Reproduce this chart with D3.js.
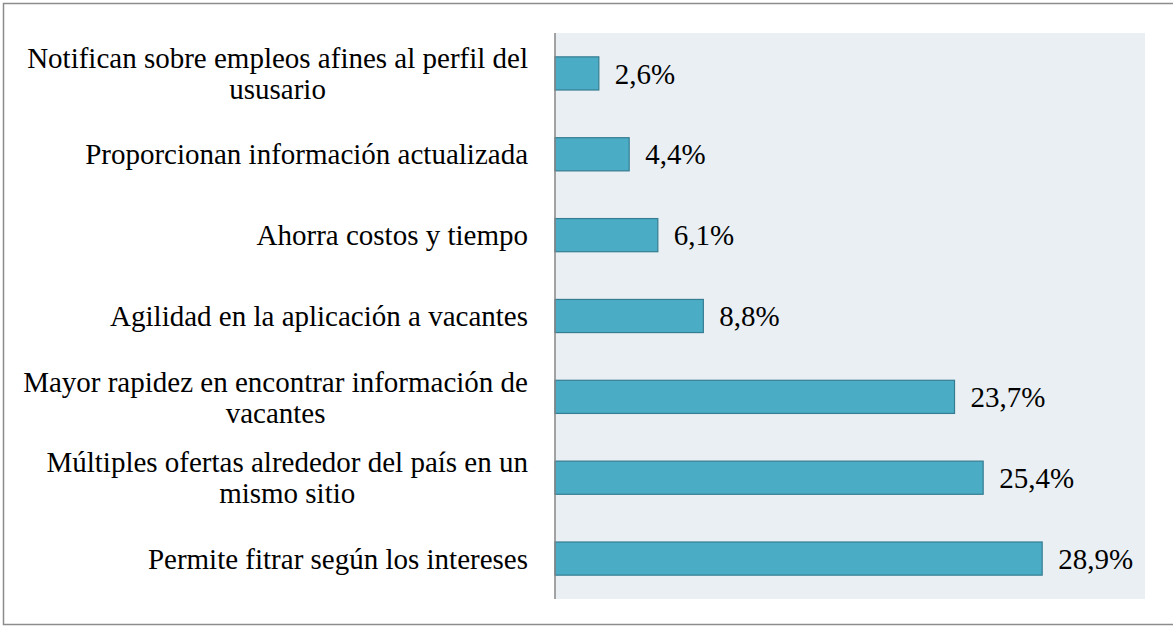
<!DOCTYPE html>
<html>
<head>
<meta charset="utf-8">
<script src="https://cdn.jsdelivr.net/npm/d3@7"></script>
<style>
  html, body { margin: 0; padding: 0; background: #fff; font-family: "Liberation Serif", serif; }
  svg { display: block; }
</style>
</head>
<body>
<div id="chart"></div>
<script>
// Categories, top to bottom ("\n" marks the label line breaks)
const categories = [
  'Notifican sobre empleos afines al perfil del\nususario',
  'Proporcionan información actualizada',
  'Ahorra costos y tiempo',
  'Agilidad en la aplicación a vacantes',
  'Mayor rapidez en encontrar información de\nvacantes',
  'Múltiples ofertas alrededor del país en un\nmismo sitio',
  'Permite fitrar según los intereses'
];
const values = [2.6, 4.4, 6.1, 8.8, 23.7, 25.4, 28.9];
const valueLabels = ['2,6%', '4,4%', '6,1%', '8,8%', '23,7%', '25,4%', '28,9%'];

const width = 1173;
const height = 627;
const plot = { left: 555, right: 1145, top: 33, bottom: 599 };
const FONT = '"Liberation Serif", "Times New Roman", serif';

function draw() {
  const svg = d3.select('#chart')
    .append('svg')
    .attr('width', width)
    .attr('height', height)
    .attr('font-family', FONT);

  // Outer frame
  svg.append('rect')
    .attr('x', 3.5)
    .attr('y', 3.5)
    .attr('width', width + 10)
    .attr('height', 621)
    .attr('fill', '#fff')
    .attr('stroke', '#8c8c8c')
    .attr('stroke-width', 1.5);

  // Plot background
  svg.append('rect')
    .attr('x', plot.left)
    .attr('y', plot.top)
    .attr('width', plot.right - plot.left)
    .attr('height', plot.bottom - plot.top)
    .attr('fill', '#e9eff3');

  const x = d3.scaleLinear()
    .domain([0, 35])
    .range([plot.left, plot.right]);

  const y = d3.scaleBand()
    .domain(d3.range(categories.length))
    .range([plot.top, plot.bottom])
    .paddingInner(0.59)
    .paddingOuter(0.295);

  // Bars
  svg.append('g')
    .selectAll('rect')
    .data(values)
    .join('rect')
    .attr('x', x(0))
    .attr('y', (d, i) => y(i))
    .attr('width', d => x(d) - x(0))
    .attr('height', y.bandwidth())
    .attr('fill', '#4bacc6')
    .attr('stroke', '#357d91')
    .attr('stroke-width', 1.2);

  // Value labels
  svg.append('g')
    .selectAll('text')
    .data(values)
    .join('text')
    .attr('font-family', FONT)
    .attr('font-size', 29)
    .attr('fill', '#000')
    .attr('x', d => x(d) + 16)
    .attr('y', (d, i) => y(i) + y.bandwidth() / 2)
    .attr('dy', '0.35em')
    .text((d, i) => valueLabels[i]);

  // Category labels: block right-aligned, lines centred within the block
  const labelRight = 528;
  const lineHeight = 31;
  const labelG = svg.append('g');
  categories.forEach((cat, i) => {
    const lines = cat.split('\n');
    const cy = y(i) + y.bandwidth() / 2;
    const t = labelG.append('text')
      .attr('font-family', FONT)
      .attr('font-size', 29)
      .attr('fill', '#000')
      .attr('text-anchor', 'middle');
    const spans = lines.map((line, j) => t.append('tspan')
      .attr('y', cy + (j - (lines.length - 1) / 2) * lineHeight)
      .attr('dy', '0.35em')
      .text(line));
    const maxW = d3.max(spans, s => s.node().getComputedTextLength());
    spans.forEach(s => s.attr('x', labelRight - maxW / 2));
  });

  // Vertical category axis line
  svg.append('line')
    .attr('x1', plot.left)
    .attr('x2', plot.left)
    .attr('y1', plot.top)
    .attr('y2', plot.bottom)
    .attr('stroke', '#868686')
    .attr('stroke-width', 1.5);
}

if (document.fonts && document.fonts.load) {
  document.fonts.load('29px "Liberation Serif"').then(draw, draw);
} else {
  draw();
}
</script>
</body>
</html>
